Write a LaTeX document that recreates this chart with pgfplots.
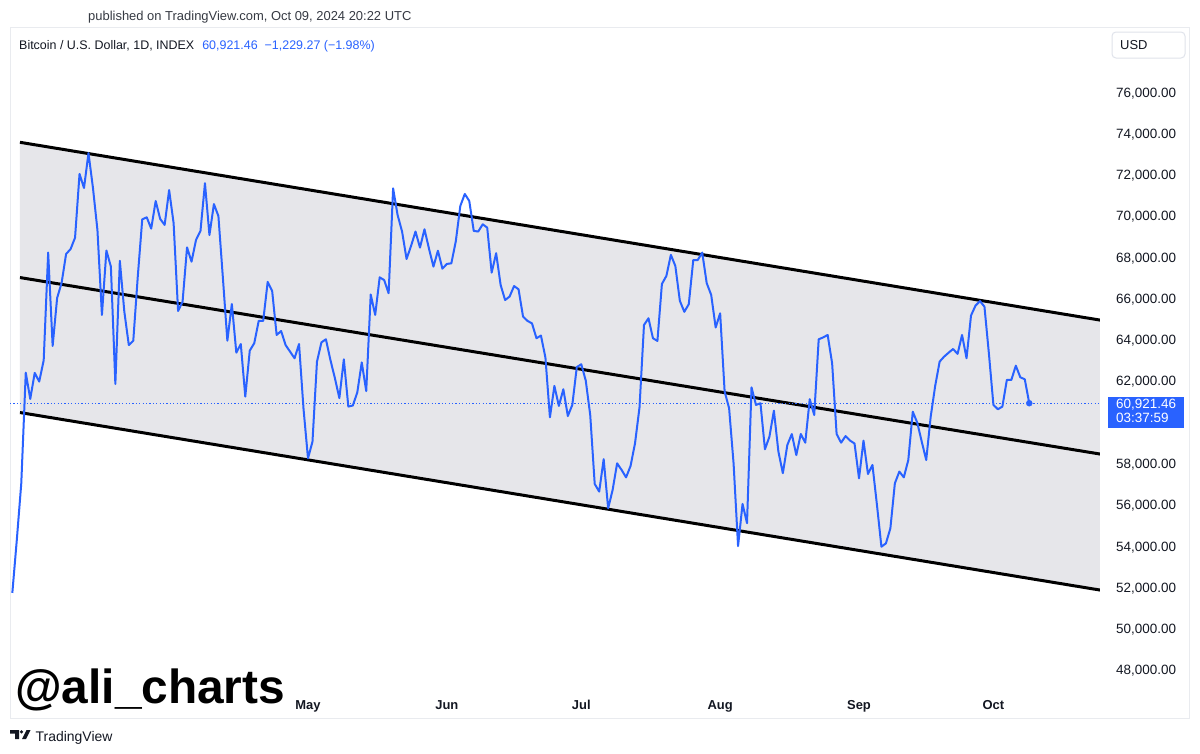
\documentclass[border=0pt]{standalone}
\usepackage{pgfplots}
\pgfplotsset{compat=1.18}
\usepackage{fontspec}
\setmainfont{Liberation Sans}
\definecolor{tvblue}{HTML}{2962FF}
\definecolor{tvtext}{HTML}{131722}
\definecolor{chanfill}{HTML}{E6E6EA}
\definecolor{paneborder}{HTML}{E9EBEF}
\definecolor{boxborder}{HTML}{E0E3EB}
\newcommand\fs[1]{\fontsize{#1}{#1}\selectfont}
\begin{document}
\begin{tikzpicture}
\useasboundingbox (0bp,0bp) rectangle (1200bp,-754bp);
\fill[white] (0bp,0bp) rectangle (1200bp,-754bp);
\begin{scope}[x=1bp,y=-1bp]
\draw[paneborder, line width=1bp] (10,27.5) rectangle (1189,718);
\end{scope}
\begin{axis}[
  at={(10bp,-690bp)}, anchor=south west,
  scale only axis, width=1090bp, height=660bp,
  xmin=-66.52, xmax=176.79, ymin=47027, ymax=79004,
  scaled y ticks=false, scaled x ticks=false,
  axis line style={draw=none},
  major tick style={draw=none}, minor tick style={draw=none},
  xtick={0,31,61,92,123,153},
  xticklabels={May,Jun,Jul,Aug,Sep,Oct},
  xticklabel style={anchor=base, inner sep=0pt, yshift=-19bp, font=\fs{13}\bfseries, text=tvtext},
  ytick={48000,50000,52000,54000,56000,58000,62000,64000,66000,68000,70000,72000,74000,76000},
  yticklabels={{48,000.00},{50,000.00},{52,000.00},{54,000.00},{56,000.00},{58,000.00},{62,000.00},{64,000.00},{66,000.00},{68,000.00},{70,000.00},{72,000.00},{74,000.00},{76,000.00}},
  yticklabel pos=right,
  yticklabel style={anchor=base west, inner sep=0pt, xshift=16bp, yshift=-5bp, font=\fs{13.5}, text=tvtext},
  clip=true,
]
% channel shading
\addplot[fill=chanfill, draw=none] coordinates {(-64.29,73563) (176.79,64950) (176.79,51870) (-64.29,60470)} -- cycle;
% channel lines
\addplot[black, line width=3bp] coordinates {(-64.29,73563) (176.79,64950)};
\addplot[black, line width=3bp] coordinates {(-64.29,67010) (176.79,58460)};
\addplot[black, line width=3bp] coordinates {(-64.29,60470) (176.79,51870)};
% last price line
\addplot[tvblue, line width=1bp, dash pattern=on 1.2bp off 2.2bp] coordinates {(-66.52,60921.46) (176.79,60921.46)};
% price
\addplot[tvblue, line width=2bp, line join=round] coordinates {
(-66,51730) (-65,54300) (-64,57050) (-63,62400) (-62,61130) (-61,62390) (-60,61970) (-59,63000)
(-58,68220) (-57,63700) (-56,66020) (-55,66750) (-54,68150) (-53,68390) (-52,68940) (-51,72030)
(-50,71350) (-49,73040) (-48,71350) (-47,69310) (-46,65200) (-45,68320) (-44,67540) (-43,61850)
(-42,67820) (-41,65360) (-40,63740) (-39,63950) (-38,67050) (-37,69830) (-36,69930) (-35,69380)
(-34,70720) (-33,69850) (-32,69560) (-31,71250) (-30,69650) (-29,65390) (-28,65840) (-27,68470)
(-26,67780) (-25,68830) (-24,69270) (-23,71580) (-22,69070) (-21,70570) (-20,69990) (-19,67000)
(-18,63950) (-17,65730) (-16,63370) (-15,63790) (-14,61240) (-13,63470) (-12,63830) (-11,64910)
(-10,64910) (-9,66800) (-8,66360) (-7,64230) (-6,64420) (-5,63740) (-4,63420) (-3,63100)
(-2,63790) (-1,60650) (0,58250) (1,59060) (2,62930) (3,63870) (4,64020) (5,63020)
(6,62140) (7,61170) (8,63050) (9,60760) (10,60810) (11,61440) (12,62900) (13,61510)
(14,66190) (15,65200) (16,67020) (17,66890) (18,66250) (19,71330) (20,70040) (21,69240)
(22,67910) (23,68540) (24,69240) (25,68460) (26,69350) (27,68420) (28,67540) (29,68310)
(30,67440) (31,67670) (32,67700) (33,68780) (34,70480) (35,71060) (36,70720) (37,69270)
(38,69240) (39,69590) (40,69430) (41,67250) (42,68190) (43,66650) (44,65920) (45,66090)
(46,66600) (47,66440) (48,65120) (49,64910) (50,64790) (51,64070) (52,64200) (53,63130)
(54,60240) (55,61760) (56,60790) (57,61600) (58,60300) (59,60840) (60,62670) (61,62810)
(62,62020) (63,60350) (64,57010) (65,56640) (66,58210) (67,55830) (68,56720) (69,58010)
(70,57690) (71,57330) (72,57880) (73,58980) (74,60720) (75,64710) (76,65040) (77,64070)
(78,63940) (79,66700) (80,67090) (81,68110) (82,67570) (83,65890) (84,65350) (85,65720)
(86,67860) (87,67860) (88,68220) (89,66740) (90,66170) (91,64590) (92,65280) (93,61490)
(94,60680) (95,58000) (96,54000) (97,56040) (98,55110) (99,61690) (100,60840) (101,60920)
(102,58690) (103,59300) (104,60560) (105,58580) (106,57530) (107,58900) (108,59430) (109,58410)
(110,59430) (111,59010) (112,61120) (113,60350) (114,64020) (115,64110) (116,64230) (117,62850)
(118,59430) (119,59010) (120,59330) (121,59110) (122,58970) (123,57280) (124,59110) (125,57490)
(126,57930) (127,56000) (128,53970) (129,54130) (130,54860) (131,57040) (132,57610) (133,57330)
(134,58170) (135,60510) (136,59980) (137,59060) (138,58170) (139,60270) (140,61760) (141,62940)
(142,63180) (143,63370) (144,63550) (145,63310) (146,64230) (147,63100) (148,65170) (149,65650)
(150,65870) (151,65600) (152,63310) (153,60840) (154,60630) (155,60760) (156,62050) (157,62050)
(158,62740) (159,62180) (160,62080) (161,60921.46)
};
\addplot[only marks, mark=*, mark size=3bp, tvblue] coordinates {(161,60921.46)};
\end{axis}
\begin{scope}[x=1bp,y=-1bp]
% header
\node[anchor=base west, inner sep=0pt, font=\fs{13}, text=tvtext!85] at (88,20.7) {published on TradingView.com, Oct 09, 2024 20:22 UTC};
\node[anchor=base west, inner sep=0pt, font=\fs{12.5}, text=tvtext] at (19,49) {Bitcoin / U.S. Dollar, 1D, INDEX\hspace{8bp}\textcolor{tvblue}{60,921.46\hspace{7bp}−1,229.27 (−1.98\%)}};
% USD box
\draw[boxborder, line width=1bp, rounded corners=4bp] (1112,32) rectangle (1185,58);
\node[anchor=base west, inner sep=0pt, font=\fs{13}, text=tvtext] at (1120,49.5) {USD};
% price label
\fill[tvblue] (1108,396.5) rectangle (1184,427.5);
\node[anchor=base west, inner sep=0pt, font=\fs{13.5}, text=white] at (1116,408.5) {60,921.46};
\node[anchor=base west, inner sep=0pt, font=\fs{13.5}, text=white] at (1116,422.5) {03:37:59};
% watermark
\node[anchor=base west, inner sep=0pt, font=\fs{48}\bfseries, text=black] at (15,703) {@ali\_charts};
% TradingView logo
\fill[tvtext] (10,730) -- (19,730) -- (19,739) -- (15,739) -- (15,733.5) -- (10,733.5) -- cycle;
\fill[tvtext] (21.5,731.8) circle (1.8);
\fill[tvtext] (22,739) -- (26.5,730) -- (30.5,730) -- (26,739) -- cycle;
\node[anchor=base west, inner sep=0pt, font=\fs{14}, text=tvtext] at (35.5,741) {TradingView};
\end{scope}
\end{tikzpicture}
\end{document}
